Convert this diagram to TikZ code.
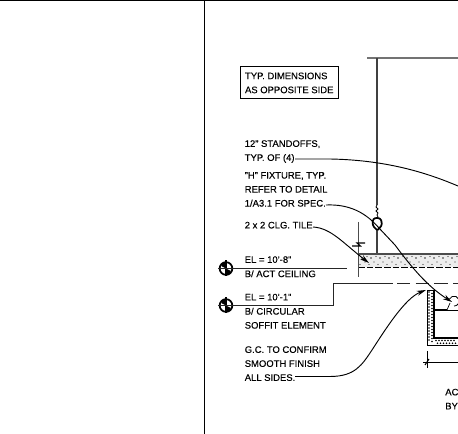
\documentclass[tikz,border=0pt]{standalone}
\usepackage{fontspec}
\setmainfont{Liberation Sans}
\usetikzlibrary{positioning,arrows.meta}
\tikzset{>={Stealth[length=7pt,width=3.8pt]}, % leader arrow heads
thinnote/.style={inner sep=0pt, align=left, anchor=north west, font=\fontsize{7.1}{10.5}\selectfont\addfontfeature{FakeBold=0.08}}, % plain callouts
note/.style={thinnote, font=\fontsize{7.1}{10.5}\selectfont\addfontfeature{FakeBold=0.25}}, % heavier callouts
leader/.style={line width=0.7pt}, % curved leaders
level/.style={line width=0.7pt, black!85}, % elevation lines
target/.style={circle, draw, line width=1.3pt, minimum size=9.5pt, inner sep=0pt}, % elevation mark
}

\begin{document}
\begin{tikzpicture}[x=0.75pt,y=-0.75pt]
\useasboundingbox (0,0) rectangle (458,434);
\draw[line width=1.1pt] (0,0.5) -- (458,0.5);
\draw[line width=1.1pt] (204.5,0) -- (204.5,434);

% notes
\node[draw, line width=0.7pt, inner xsep=3.8pt, inner ysep=4.2pt, align=left, font=\fontsize{7.1}{10.5}\selectfont\addfontfeature{FakeBold=0.08}, anchor=north west] (typ) at (239.5,66.5) {TYP. DIMENSIONS\\AS OPPOSITE SIDE};
\node[note] (standoffs) at (244.5,140) {12" STANDOFFS,\\TYP. OF (4)};
\node[note, below=6.5pt of standoffs.south west, anchor=north west] (fixture) {"H" FIXTURE, TYP.\\REFER TO DETAIL\\1/A3.1 FOR SPEC.};
\node[note, below=11pt of fixture.south west, anchor=north west] (tile) {2 x 2 CLG. TILE};
\node[thinnote] (ela) at (244.5,256) {EL = 10'-8"};
\node[note] (actb) at (244.5,270) {B/ ACT CEILING};
\node[thinnote] (elb) at (244.5,293.5) {EL = 10'-1"};
\node[thinnote] (soffit) at (244.5,307.5) {B/ CIRCULAR\\SOFFIT ELEMENT};
\node[note] (gc) at (244.5,346) {G.C. TO CONFIRM\\SMOOTH FINISH\\ALL SIDES.};
\node[note] (ac) at (445,388.5) {AC\\BY};

% hanger and fixture
\coordinate (topa) at (367,58);
\coordinate (topb) at (458,58);
\coordinate (hang) at (377,58);
\coordinate (hangb) at (377,205);
\coordinate (lampt) at (377,218);
\coordinate (stem) at (377,254);
\draw[line width=1pt, black!55] (topa) -- (topb);
\draw[line width=0.9pt, black!75] (hang) -- (hangb);
\draw[line width=0.6pt] (hangb) -- ++(-1,2) -- ++(2,2) -- ++(-2,2) -- ++(2,2) -- ++(-1,2) -- ++(1,2) -- (lampt);
\draw[line width=1pt, black!75] (377,228) -- (stem);
\draw[line width=1.3pt, fill=white, rounded corners=1pt] (372.5,220) -- (376,217.5) -- (381,219) -- (382,225) -- (377.5,230.5) -- (373,226) -- cycle;

% ceiling tile
\coordinate (tilea) at (358,254);
\coordinate (tileb) at (458,254);
\coordinate (tilec) at (358,267.5);
\coordinate (tiled) at (458,267.5);
\coordinate (tilee) at (358,222);
\coordinate (tilef) at (358,277);
\fill[black!7] (tilea) rectangle (tiled);
\foreach \x in {362,371,...,452} {
  \fill[black!80] (\x,258) circle (0.8);
  \fill[black!80] (\x+3,262) circle (0.7);
  \fill[black!80] (\x-2,264.5) circle (0.6);
  \fill[black!80] (\x+5,256.5) circle (0.6);
}
\draw[line width=1.2pt, black!70] (tilea) -- (tileb);
\draw[line width=0.6pt, dash pattern=on 5pt off 1.5pt] (tilec) -- (tiled);
\draw[line width=0.4pt, black!70] (tilee) -- (tilef);
\draw[line width=0.8pt] (352,246) -- (360.5,246) -- (357,243) -- (365,243);

% levels
\node[target] (marka) at (226,268.5) {};
\node[target] (markb) at (226,305.5) {};
\coordinate (levela) at (347,268.5);
\coordinate (levelb) at (333.5,305.5);
\coordinate (levelc) at (333.5,283.5);
\coordinate (leveld) at (458,283.5);
\coordinate (levele) at (393,283.5);
\coordinate (levelf) at (397,283.5);
\coordinate (markax) at (218,268.5);
\coordinate (markbx) at (218,305.5);
\fill (marka.center) -- (marka.north) arc (270:180:4.75) -- cycle;
\fill (marka.center) -- (marka.south) arc (90:0:4.75) -- cycle;
\fill (markb.center) -- (markb.north) arc (270:180:4.75) -- cycle;
\fill (markb.center) -- (markb.south) arc (90:0:4.75) -- cycle;
\draw[line width=1pt] (226,260.5) -- (226,276.5);
\draw[line width=1pt] (226,297.5) -- (226,313.5);
\draw[level] (markax) -- (levela);
\draw[level] (markbx) -- (levelb) -- (levelc) -- (levele);
\draw[level, dash pattern=on 10pt off 4pt] (levelf) -- (leveld);

% soffit
\coordinate (walla) at (427,290);
\coordinate (wallb) at (434,338);
\coordinate (wallc) at (427,345.5);
\coordinate (walld) at (458,345.5);
\coordinate (walle) at (434,290);
\coordinate (wallf) at (458,338);
\coordinate (arm) at (434,310);
\coordinate (armb) at (447,310);
\coordinate (armc) at (458,310);
\coordinate (armd) at (450,303);
\draw[line width=0.7pt, fill=white] (walla) -- (walle) -- (wallb) -- (wallf) -- (walld) -- (wallc) -- cycle;
\foreach \y in {292,295,...,340} {
  \fill (429,\y) circle (0.9);
  \fill (432,\y+1.5) circle (0.9);
}
\foreach \x in {436,439,...,456} {
  \fill (\x,340.5) circle (0.9);
  \fill (\x+1.5,343.2) circle (0.9);
}
\draw[line width=1.3pt] (walle) -- (wallb) -- (wallf);
\draw[line width=1.4pt] (arm) -- (armb);
\draw[line width=0.5pt] (armb) -- (armc);
\draw[line width=0.5pt] (armb) -- (armd);
\draw[line width=0.6pt] (449.5,299) arc (205:450:5);

% dimension
\coordinate (dima) at (427,351);
\coordinate (dimb) at (427,368);
\coordinate (dimc) at (423,362);
\coordinate (dimd) at (458,362);
\draw[line width=0.5pt] (dima) -- (dimb);
\draw[line width=0.5pt] (dimc) -- (dimd);
\draw[line width=0.8pt] (425,365) -- (429,359);

% leaders
\coordinate (standoffsx) at (295,159);
\coordinate (standoffsy) at (458,186);
\coordinate (fixturex) at (326,205);
\coordinate (fixturey) at (452,302);
\coordinate (tilex) at (313,227);
\coordinate (tiley) at (369,263);
\coordinate (gcx) at (295,376.5);
\coordinate (gcy) at (426,290);
\draw[leader] (standoffsx) -- (330,159) .. controls (385,160) and (425,172) .. (standoffsy);
\draw[leader, ->] (fixturex) .. controls (350,204) and (366,213) .. (379,228) -- (395,245) .. controls (415,272) and (430,288) .. (fixturey);
\draw[leader, ->] (tilex) .. controls (331,228) and (343,243) .. (tiley);
\draw[leader, ->] (gcx) -- (330,376.5) .. controls (355,376.5) and (362,365) .. (372,350) .. controls (385,330) and (405,298) .. (gcy);
\end{tikzpicture}
\end{document}
